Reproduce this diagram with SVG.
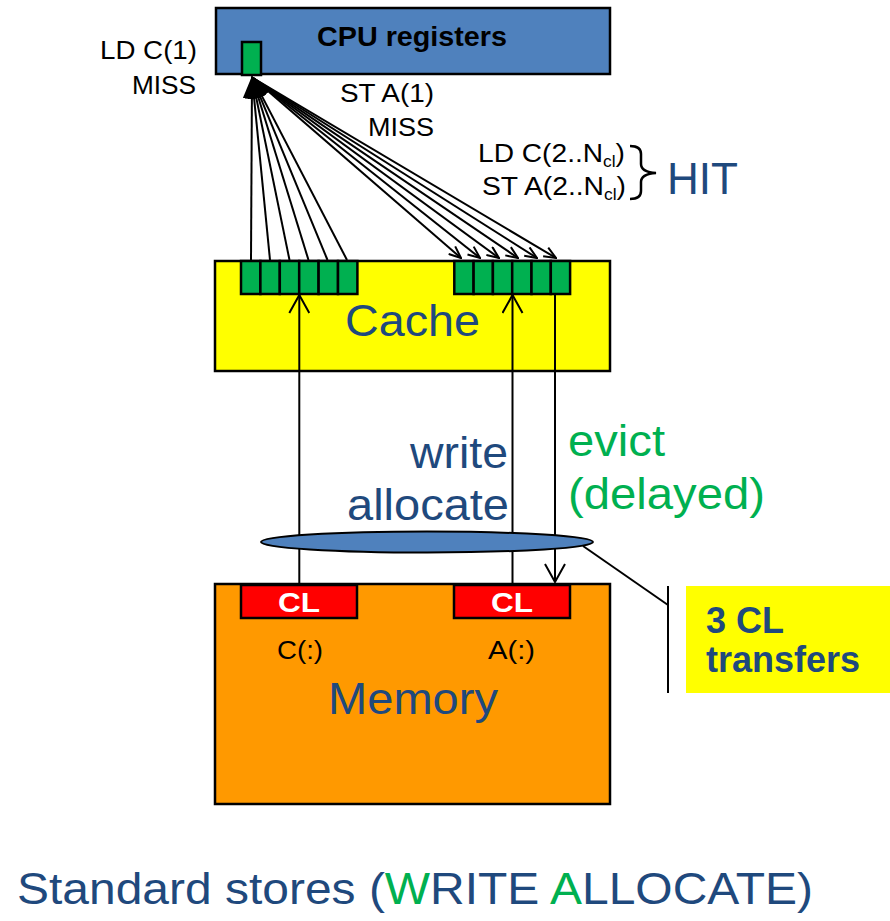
<svg xmlns="http://www.w3.org/2000/svg" width="890" height="921" viewBox="0 0 890 921">
<style>
  .box { stroke:#000; stroke-width:2.5; }
  .cell { fill:#00B050; stroke:#000; stroke-width:2.5; }
  .ln { stroke:#000; stroke-width:2; fill:none; }
  .lbl { font-family:"Liberation Sans", Arial, sans-serif; font-size:26px; fill:#000; }
  .big { font-family:"Liberation Sans", Arial, sans-serif; font-size:44px; fill:#1F497D; }
  .grn { font-family:"Liberation Sans", Arial, sans-serif; font-size:44px; fill:#00B050; }
  .bold { font-family:"Liberation Sans", Arial, sans-serif; font-weight:bold; }
</style>
<defs>
  <marker id="fill" markerWidth="22" markerHeight="18" refX="21" refY="9" orient="auto" markerUnits="userSpaceOnUse">
    <path d="M0,0 L22,9 L0,18 Z" fill="#000"/>
  </marker>
  <marker id="vsmall" markerWidth="14" markerHeight="12" refX="13" refY="6" orient="auto" markerUnits="userSpaceOnUse">
    <path d="M1,1 L13,6 L1,11" fill="none" stroke="#000" stroke-width="2"/>
  </marker>
  <marker id="vbig" markerWidth="20" markerHeight="22" refX="19" refY="11" orient="auto" markerUnits="userSpaceOnUse">
    <path d="M1,1 L19,11 L1,21" fill="none" stroke="#000" stroke-width="2"/>
  </marker>
</defs>

<g id="connectors">
  <!-- loads: cache left group to CPU -->
  <line class="ln" x1="251" y1="260" x2="252" y2="77" marker-end="url(#fill)"/>
  <line class="ln" x1="270" y1="260" x2="252" y2="77" marker-end="url(#fill)"/>
  <line class="ln" x1="289.5" y1="260" x2="252" y2="77" marker-end="url(#fill)"/>
  <line class="ln" x1="308.5" y1="260" x2="252" y2="77" marker-end="url(#fill)"/>
  <line class="ln" x1="327.5" y1="260" x2="252" y2="77" marker-end="url(#fill)"/>
  <line class="ln" x1="347" y1="260" x2="252" y2="77" marker-end="url(#fill)"/>
  <!-- stores: CPU to cache right group -->
  <line class="ln" x1="253" y1="78" x2="461" y2="258" marker-end="url(#vsmall)"/>
  <line class="ln" x1="253" y1="78" x2="480" y2="258" marker-end="url(#vsmall)"/>
  <line class="ln" x1="253" y1="78" x2="499" y2="258" marker-end="url(#vsmall)"/>
  <line class="ln" x1="253" y1="78" x2="518" y2="258" marker-end="url(#vsmall)"/>
  <line class="ln" x1="253" y1="78" x2="537" y2="258" marker-end="url(#vsmall)"/>
  <line class="ln" x1="253" y1="78" x2="556" y2="258" marker-end="url(#vsmall)"/>
</g>

<g id="cpu">
  <rect class="box" x="216" y="8" width="394" height="66" fill="#4F81BD"/>
  <rect class="box" x="242" y="42" width="19" height="33" fill="#00B050"/>
  <text class="bold" x="317" y="46" font-size="28" textLength="190" lengthAdjust="spacingAndGlyphs">CPU registers</text>
</g>

<g id="labels-top">
  <text class="lbl" x="100" y="59" textLength="97" lengthAdjust="spacingAndGlyphs">LD C(1)</text>
  <text class="lbl" x="132" y="94" textLength="64" lengthAdjust="spacingAndGlyphs">MISS</text>
  <text class="lbl" x="340" y="102" textLength="94" lengthAdjust="spacingAndGlyphs">ST A(1)</text>
  <text class="lbl" x="368" y="136" textLength="66" lengthAdjust="spacingAndGlyphs">MISS</text>
  <text class="lbl" x="478" y="162" textLength="147" lengthAdjust="spacingAndGlyphs">LD C(2..N<tspan font-size="16" dy="5">cl</tspan><tspan dy="-5">)</tspan></text>
  <text class="lbl" x="482" y="195" textLength="144" lengthAdjust="spacingAndGlyphs">ST A(2..N<tspan font-size="16" dy="5">cl</tspan><tspan dy="-5">)</tspan></text>
  <path d="M630,146 Q641,146 641,154 L641,164 Q641,172 656,173 Q641,174 641,182 L641,191 Q641,199 630,199" fill="none" stroke="#000" stroke-width="2.5"/>
  <text class="big" x="667" y="194" font-size="46" textLength="71" lengthAdjust="spacingAndGlyphs">HIT</text>
</g>

<g id="cache">
  <rect class="box" x="215" y="261" width="395" height="110" fill="#FFFF00"/>
  <rect class="cell" x="241" y="261" width="19.4" height="33"/>
  <rect class="cell" x="260.4" y="261" width="19.4" height="33"/>
  <rect class="cell" x="279.8" y="261" width="19.4" height="33"/>
  <rect class="cell" x="299.2" y="261" width="19.4" height="33"/>
  <rect class="cell" x="318.6" y="261" width="19.4" height="33"/>
  <rect class="cell" x="338" y="261" width="19.4" height="33"/>
  <rect class="cell" x="454.3" y="261" width="19.3" height="33"/>
  <rect class="cell" x="473.6" y="261" width="19.3" height="33"/>
  <rect class="cell" x="492.9" y="261" width="19.3" height="33"/>
  <rect class="cell" x="512.2" y="261" width="19.3" height="33"/>
  <rect class="cell" x="531.5" y="261" width="19.3" height="33"/>
  <rect class="cell" x="550.8" y="261" width="19.3" height="33"/>
  <text class="big" x="345" y="336" textLength="135" lengthAdjust="spacingAndGlyphs">Cache</text>
</g>

<g id="memory">
  <rect class="box" x="215" y="584" width="395" height="220" fill="#FF9900"/>
  <rect class="box" x="241" y="585" width="116" height="33" fill="#FF0000"/>
  <rect class="box" x="454" y="585" width="116" height="33" fill="#FF0000"/>
  <text class="bold" x="278" y="612" font-size="28" fill="#fff" textLength="42" lengthAdjust="spacingAndGlyphs">CL</text>
  <text class="bold" x="491" y="612" font-size="28" fill="#fff" textLength="42" lengthAdjust="spacingAndGlyphs">CL</text>
  <text class="lbl" x="277" y="659" font-size="27" textLength="46" lengthAdjust="spacingAndGlyphs">C(:)</text>
  <text class="lbl" x="488" y="659" font-size="27" textLength="47" lengthAdjust="spacingAndGlyphs">A(:)</text>
  <text class="big" x="328" y="714" textLength="170" lengthAdjust="spacingAndGlyphs">Memory</text>
</g>

<g id="transfers">
  <line class="ln" x1="299.3" y1="585" x2="299.3" y2="295" marker-end="url(#vbig)"/>
  <line class="ln" x1="512.5" y1="585" x2="512.5" y2="295" marker-end="url(#vbig)"/>
  <line class="ln" x1="555" y1="294" x2="555" y2="582" marker-end="url(#vbig)"/>
  <ellipse cx="427" cy="542" rx="166" ry="10.5" fill="#4F81BD" stroke="#000" stroke-width="2"/>
  <line class="ln" x1="583" y1="546" x2="668" y2="605"/>
  <line class="ln" x1="668" y1="586" x2="668" y2="693"/>
  <text class="big" x="410" y="468" textLength="98" lengthAdjust="spacingAndGlyphs">write</text>
  <text class="big" x="347" y="520" textLength="162" lengthAdjust="spacingAndGlyphs">allocate</text>
  <text class="grn" x="568" y="456" textLength="97" lengthAdjust="spacingAndGlyphs">evict</text>
  <text class="grn" x="568" y="509" textLength="197" lengthAdjust="spacingAndGlyphs">(delayed)</text>
</g>

<g id="cl-transfers">
  <rect x="686" y="586" width="204" height="107" fill="#FFFF00"/>
  <text class="bold" x="706" y="633" font-size="36" fill="#1F497D">3 CL</text>
  <text class="bold" x="706" y="672" font-size="36" fill="#1F497D">transfers</text>
</g>

<g id="title">
  <text class="big" x="17" y="904" font-size="46" textLength="796" lengthAdjust="spacingAndGlyphs">Standard stores (<tspan fill="#00B050">W</tspan>RITE <tspan fill="#00B050">A</tspan>LLOCATE)</text>
</g>
</svg>
